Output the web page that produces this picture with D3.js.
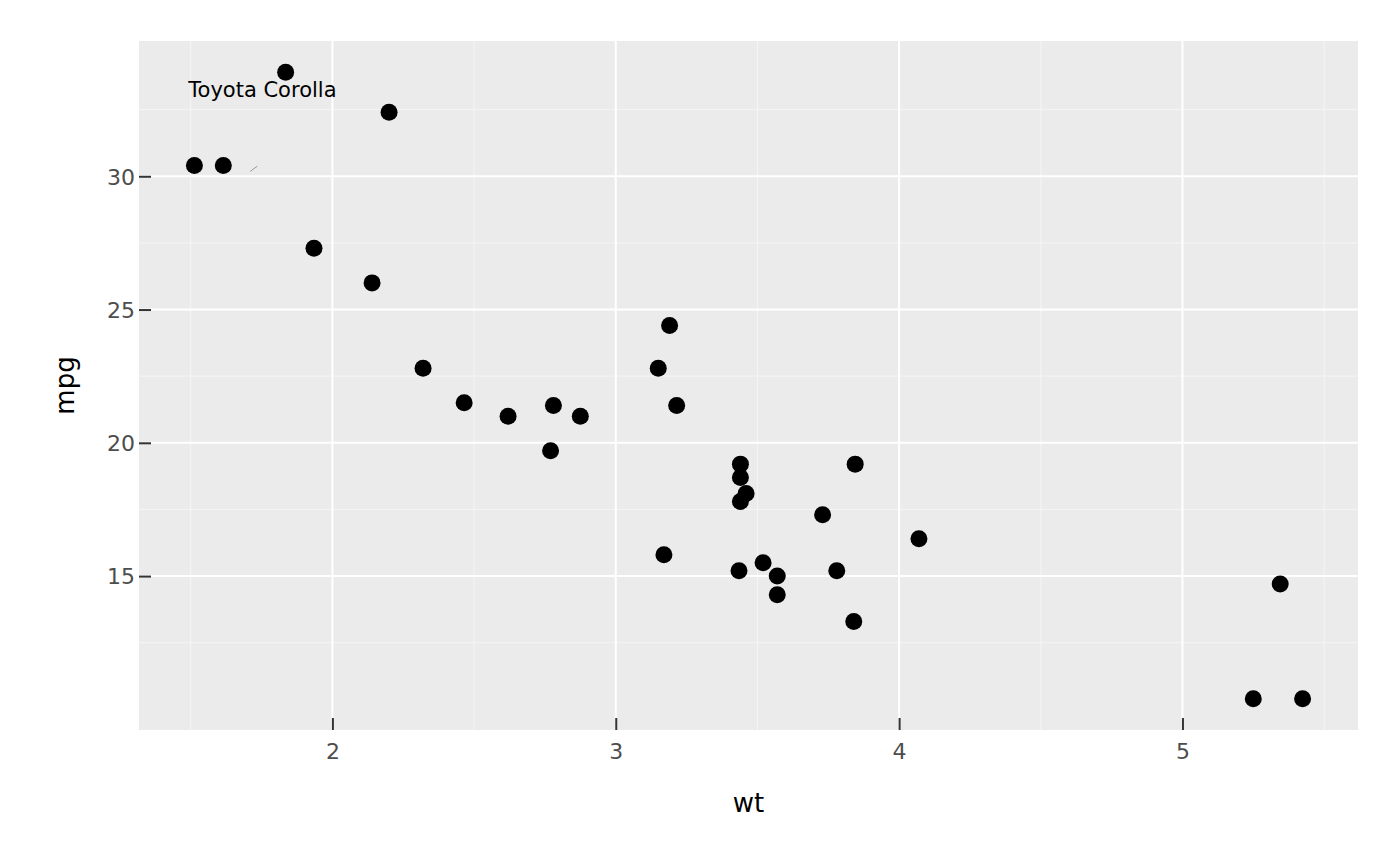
<!DOCTYPE html>
<html><head><meta charset="utf-8">
<script src="https://cdn.jsdelivr.net/npm/d3@7"></script>
<style>body{margin:0;background:#fff}svg{display:block}text{font-family:"DejaVu Sans",sans-serif}</style>
</head><body><svg id="c" width="1400" height="866"></svg>
<script>
const wt  = [2.620,2.875,2.320,3.215,3.440,3.460,3.570,3.190,3.150,3.440,3.440,4.070,3.730,3.780,5.250,5.424,5.345,2.200,1.615,1.835,2.465,3.520,3.435,3.840,3.845,1.935,2.140,1.513,3.170,2.770,3.570,2.780];
const mpg = [21.0,21.0,22.8,21.4,18.7,18.1,14.3,24.4,22.8,19.2,17.8,16.4,17.3,15.2,10.4,10.4,14.7,32.4,30.4,33.9,21.5,15.5,15.2,13.3,19.2,27.3,26.0,30.4,15.8,19.7,15.0,21.4];
const xTicks = [2,3,4,5];
const yTicks = [15,20,25,30];
const xMinor = [1.5,2.5,3.5,4.5,5.5];
const yMinor = [12.5,17.5,22.5,27.5,32.5];
const labelText = ["Toyota Corolla"];
const labelX = [1.753];
const labelY = [33.25];
const segX = [1.710, 1.735];
const segY = [30.18, 30.38];

const svg = d3.select("#c");
const L=139, R=1358, T=41, B=730;
const ex = d3.extent(wt), ey = d3.extent(mpg);
const dx=(ex[1]-ex[0])*0.05, dy=(ey[1]-ey[0])*0.05;
const x = d3.scaleLinear().domain([ex[0]-dx, ex[1]+dx]).range([L,R]);
const y = d3.scaleLinear().domain([ey[0]-dy, ey[1]+dy]).range([B,T]);

svg.append("rect").attr("x",L).attr("y",T).attr("width",R-L).attr("height",B-T).attr("fill","#ebebeb");
const g = svg.append("g");
g.selectAll(".xm").data(xMinor).join("line").attr("x1",d=>x(d)).attr("x2",d=>x(d)).attr("y1",T).attr("y2",B).attr("stroke","#f5f5f5").attr("stroke-width",1);
g.selectAll(".ym").data(yMinor).join("line").attr("y1",d=>y(d)).attr("y2",d=>y(d)).attr("x1",L).attr("x2",R).attr("stroke","#f5f5f5").attr("stroke-width",1);
g.selectAll(".xM").data(xTicks).join("line").attr("x1",d=>x(d)).attr("x2",d=>x(d)).attr("y1",T).attr("y2",B).attr("stroke","#fff").attr("stroke-width",2);
g.selectAll(".yM").data(yTicks).join("line").attr("y1",d=>y(d)).attr("y2",d=>y(d)).attr("x1",L).attr("x2",R).attr("stroke","#fff").attr("stroke-width",2);

// axes with inward ticks
const xa = d3.axisBottom(x).tickValues(xTicks).tickSize(-12).tickPadding(13).tickFormat(d3.format("d"));
const xg = svg.append("g").attr("transform",`translate(0,${B})`).call(xa);
const ya = d3.axisLeft(y).tickValues(yTicks).tickSize(-12).tickPadding(8).tickFormat(d3.format("d"));
const yg = svg.append("g").attr("transform",`translate(${L},0)`).call(ya);
[xg,yg].forEach(a=>{a.select(".domain").remove();a.selectAll(".tick line").attr("stroke","#333").attr("stroke-width",2);a.selectAll(".tick text").attr("fill","#4d4d4d").style("font-size","22px");});
yg.selectAll(".tick text").attr("x",-4).attr("dy","0.36em");

// segment
svg.append("line").attr("x1",x(segX[0])).attr("x2",x(segX[1])).attr("y1",y(segY[0])).attr("y2",y(segY[1])).attr("stroke","#999").attr("stroke-width",1);

svg.append("g").selectAll("circle").data(wt.map((w,i)=>[w,mpg[i]])).join("circle")
  .attr("cx",d=>x(d[0])).attr("cy",d=>y(d[1])).attr("r",8.5).attr("fill","#000");

svg.append("g").selectAll("text").data(labelText).join("text")
  .attr("x",(d,i)=>x(labelX[i])).attr("y",(d,i)=>y(labelY[i])).attr("dy","0.36em")
  .attr("text-anchor","middle").style("font-size","21px").attr("fill","#000").text(d=>d);

svg.append("text").attr("x",(L+R)/2).attr("y",812).attr("text-anchor","middle").style("font-size","26px").text("wt");
svg.append("text").attr("transform",`translate(74,${(T+B)/2}) rotate(-90)`).attr("text-anchor","middle").style("font-size","26px").text("mpg");
</script></body></html>
